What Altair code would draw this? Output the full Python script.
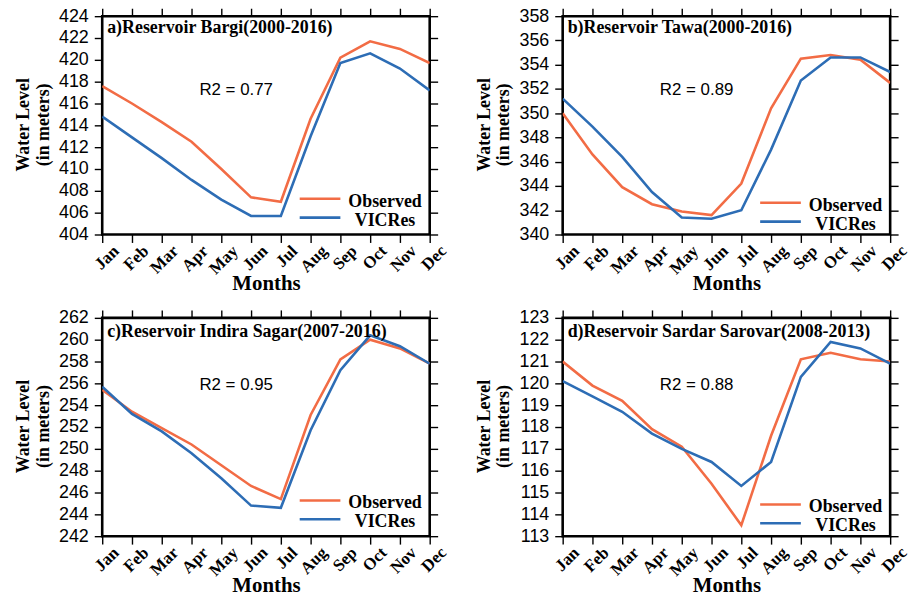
import json
import altair as alt
import pandas as pd

# Month labels and series
MONTHS = ["Jan", "Feb", "Mar", "Apr", "May", "Jun", "Jul", "Aug", "Sep", "Oct", "Nov", "Dec"]
SERIES = ["Observed", "VICRes"]
COLORS = ["#F26C45", "#2D6DB5"]

# Mean monthly water level (m) per reservoir
bargi_obs = [417.6, 416.0, 414.3, 412.5, 410.0, 407.4, 407.0, 414.6, 420.2, 421.7, 421.0, 419.7]
bargi_sim = [414.8, 412.9, 411.0, 409.0, 407.2, 405.7, 405.7, 413.0, 419.7, 420.6, 419.2, 417.2]

tawa_obs = [350.0, 346.6, 343.9, 342.5, 341.9, 341.6, 344.2, 350.4, 354.5, 354.8, 354.4, 352.5]
tawa_sim = [351.2, 348.9, 346.4, 343.5, 341.4, 341.3, 342.0, 347.0, 352.7, 354.6, 354.6, 353.4]

indira_obs = [255.4, 253.4, 251.9, 250.4, 248.5, 246.6, 245.4, 253.1, 258.2, 260.0, 259.2, 257.8]
indira_sim = [255.7, 253.2, 251.6, 249.6, 247.3, 244.8, 244.6, 251.7, 257.2, 260.4, 259.4, 257.8]

sardar_obs = [121.0, 119.9, 119.2, 117.9, 117.1, 115.4, 113.5, 117.6, 121.1, 121.4, 121.1, 121.0]
sardar_sim = [120.1, 119.4, 118.7, 117.7, 117.0, 116.4, 115.3, 116.4, 120.3, 121.9, 121.6, 120.9]

TITLES = [
    "a)Reservoir Bargi(2000-2016)",
    "b)Reservoir Tawa(2000-2016)",
    "c)Reservoir Indira Sagar(2007-2016)",
    "d)Reservoir Sardar Sarovar(2008-2013)",
]
R2 = ["R2 = 0.77", "R2 = 0.89", "R2 = 0.95", "R2 = 0.88"]

SERIF = "Liberation Serif"
SANS = "Liberation Sans"
W, H = 330, 220

month_expr = json.dumps(MONTHS) + "[datum.value]"


def to_frame(obs, sim):
    rows = []
    for i, m in enumerate(MONTHS):
        rows.append({"idx": i, "Month": m, "Series": SERIES[0], "Level": obs[i]})
        rows.append({"idx": i, "Month": m, "Series": SERIES[1], "Level": sim[i]})
    return pd.DataFrame(rows)


def panel(obs, sim, title, r2, ymin, ymax, ystep, legend_y, head_y, r2_y):
    df = to_frame(obs, sim)
    base = alt.Chart(df)
    xscale = alt.Scale(domain=[0, 11], nice=False, zero=False)
    yscale = alt.Scale(domain=[ymin, ymax], nice=False, zero=False)
    yvals = list(range(ymin, ymax + 1, ystep))

    lines = base.mark_line(strokeWidth=2.6, clip=True).encode(
        x=alt.X("idx:Q", scale=xscale,
                axis=alt.Axis(orient="bottom", values=list(range(12)), labelExpr=month_expr,
                              title="Months", labelFont=SERIF, labelFontWeight="bold",
                              labelFontSize=17, labelAngle=-45, labelAlign="right",
                              labelBaseline="top", labelPadding=0, labelOffset=8,
                              labelOverlap=False, labelBound=False, labelFlush=False,
                              titleFont=SERIF, titleFontWeight="bold", titleFontSize=21,
                              titleX=W / 2, titleY=49.5, titleAlign="center",
                              titleBaseline="middle", titleAnchor="middle")),
        y=alt.Y("Level:Q", scale=yscale,
                axis=alt.Axis(orient="left", values=yvals, title=["Water Level", "(in meters)"],
                              labelFont=SANS, labelFontSize=18, labelPadding=6,
                              labelOverlap=False, labelFlush=False,
                              titleFont=SERIF, titleFontWeight="bold", titleFontSize=18,
                              titleLineHeight=19.5, titleX=-79, titleY=H / 2 - 1,
                              titleAngle=-90, titleAlign="center", titleBaseline="middle",
                              titleAnchor="middle")),
        color=alt.Color("Series:N", scale=alt.Scale(domain=SERIES, range=COLORS), legend=None),
        order="idx:Q",
    )

    mirror = base.mark_line(opacity=0).encode(
        x=alt.X("idx:Q", scale=xscale,
                axis=alt.Axis(orient="top", values=list(range(12)), labels=False, title=None)),
        y=alt.Y("Level:Q", scale=yscale,
                axis=alt.Axis(orient="right", values=yvals, labels=False, title=None)),
        detail="Series:N",
    )

    one = alt.Chart(pd.DataFrame({"k": [0]}))
    head = one.mark_text(align="left", baseline="middle", font=SERIF, fontWeight="bold",
                         fontSize=18, color="black").encode(
        x=alt.value(5), y=alt.value(head_y), text=alt.value(title))
    r2txt = one.mark_text(align="center", baseline="middle", font=SANS, fontSize=17,
                          color="black").encode(
        x=alt.value(135), y=alt.value(r2_y), text=alt.value(r2))

    leg = []
    for k, (name, col) in enumerate(zip(SERIES, COLORS)):
        yy = legend_y + 19 * k
        leg.append(one.mark_rule(color=col, strokeWidth=2.6).encode(
            x=alt.value(199), x2=alt.value(240), y=alt.value(yy)))
        leg.append(one.mark_text(align="center", baseline="middle", font=SERIF,
                                 fontWeight="bold", fontSize=18, color="black").encode(
            x=alt.value(285), y=alt.value(yy + 3), text=alt.value(name)))

    return alt.layer(lines, mirror, head, r2txt, *leg).resolve_axis(
        x="independent", y="independent"
    ).properties(width=W, height=H)


pa = panel(bargi_obs, bargi_sim, TITLES[0], R2[0], 404, 424, 2, 184, 12, 74)
pb = panel(tawa_obs, tawa_sim, TITLES[1], R2[1], 340, 358, 2, 188, 12, 74)
pc = panel(indira_obs, indira_sim, TITLES[2], R2[2], 242, 262, 2, 184, 14, 68)
pd_ = panel(sardar_obs, sardar_sim, TITLES[3], R2[3], 113, 123, 1, 188, 14, 68)

chart = alt.concat(
    pa, pb, pc, pd_, columns=2, spacing={"row": 84, "column": 134}, bounds="flush"
).properties(
    padding={"left": 13, "top": 3, "right": 0, "bottom": 0}, background="white"
).configure_view(
    stroke="black", strokeWidth=2.6
).configure_axis(
    domain=False, grid=False, ticks=True, tickSize=8, tickWidth=1.4, tickColor="black",
    labelColor="black", titleColor="black"
)

chart.save("out.html", embed_options={"renderer": "svg", "actions": False})
